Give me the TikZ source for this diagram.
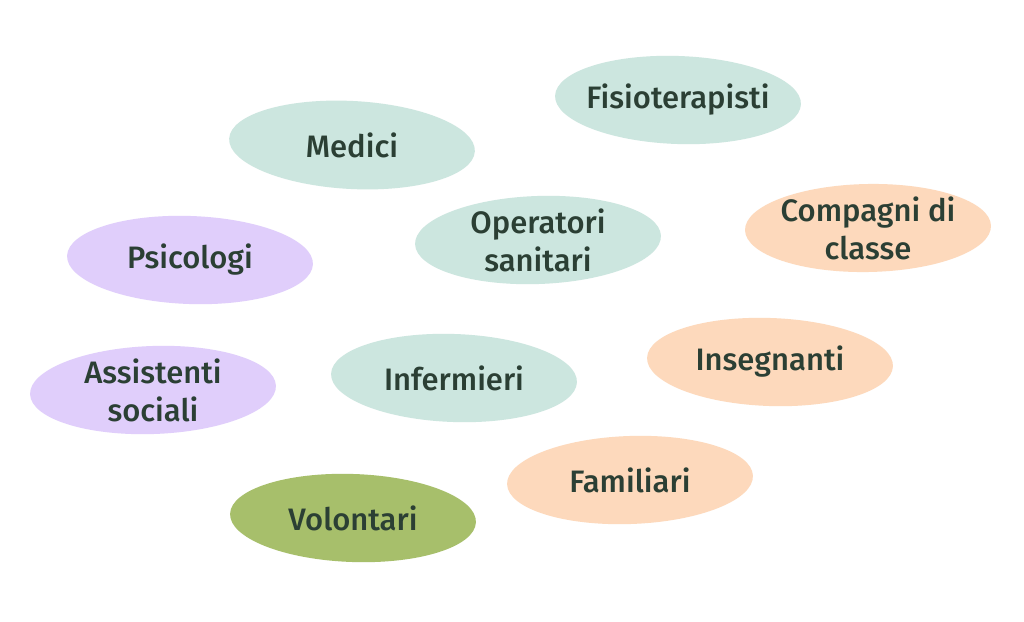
\documentclass[tikz,border=0pt]{standalone}
\usepackage{fontspec}
\setmainfont{Fira Sans}[UprightFont=* Medium]
\definecolor{teal}{HTML}{CCE6DF}
\definecolor{lilac}{HTML}{E0CEFB}
\definecolor{peach}{HTML}{FDD9BC}
\definecolor{olive}{HTML}{A7BF6B}
\definecolor{ink}{HTML}{2B3F34}
\newcommand\myblob[6]{%
  \fill[#2,rotate around={#5:(#3,#4)}] (#3,#4) ellipse [x radius=123pt,y radius=44pt];
  \node[label] (#1) at (#3,#4) {#6};}
\begin{document}
\begin{tikzpicture}[x=1pt,y=-1pt,
  label/.style={align=center,inner sep=0pt,text=ink,font=\fontsize{31}{38}\selectfont}]
\useasboundingbox (0,0) rectangle (1024,621);
\fill[white] (0,0) rectangle (1024,621);
\myblob{fis}{teal}{678}{100}{-2}{Fisioterapisti}
\myblob{med}{teal}{352}{145}{-3}{Medici}
\myblob{ope}{teal}{538}{240}{2}{Operatori\\sanitari}
\myblob{com}{peach}{868}{228}{1}{Compagni di\\classe}
\myblob{psi}{lilac}{190}{260}{-2}{Psicologi}
\myblob{ass}{lilac}{153}{390}{2}{Assistenti\\sociali}
\myblob{inf}{teal}{454}{378}{-2}{Infermieri}
\myblob{ins}{peach}{770}{362}{-2}{Insegnanti}
\myblob{fam}{peach}{630}{480}{2}{Familiari}
\myblob{vol}{olive}{353}{518}{-2}{Volontari}
\end{tikzpicture}
\end{document}
